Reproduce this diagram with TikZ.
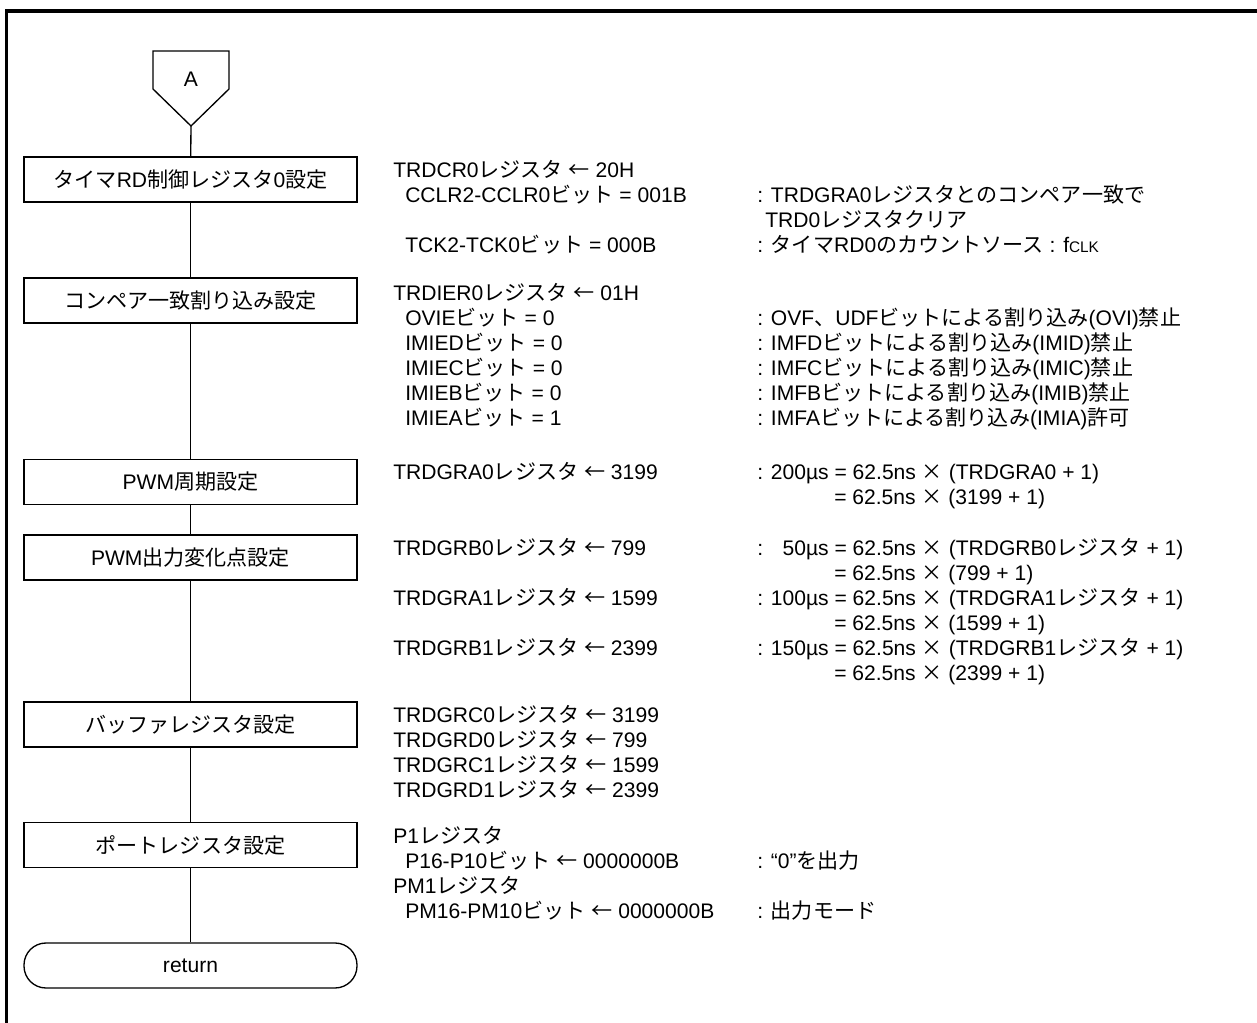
\documentclass[tikz,border=0pt]{standalone}
\usepackage{fontspec}
\setmainfont{Liberation Sans}
\newfontfamily\jpfont{Noto Sans CJK JP}
\newcommand{\ja}[1]{{\jpfont #1}}
\newcommand{\la}{\ja{←}}
\newcommand{\tm}{\ja{×}}
\usetikzlibrary{positioning}

\begin{document}
\begin{tikzpicture}[x=0.75pt,y=-0.75pt,
  font=\fontsize{15.8}{19}\selectfont,
  proc/.style={draw, line width=1pt, minimum width=249.75pt, minimum height=33.75pt, inner sep=0pt},
  term/.style={proc, rounded corners=16.5pt},
  txt/.style={anchor=west, inner sep=0pt, text height=11.3pt, text depth=0pt},
  flow/.style={line width=1pt}]

\useasboundingbox (0,0) rectangle (1257,1023);

% Frame
\draw[line width=2.5pt, line join=miter] (6.5,1023) -- (6.5,11) -- (1257,11);

% Connector A
\draw[flow] (153,51) -- (229,51) -- (229,89) -- (191,126) -- (153,89) -- cycle;
\node (conA) at (191,79) {A};
\coordinate (atip) at (191,126);

% Boxes
\node[proc] (bx1) at (190.5,179.5) {\ja{タイマ}RD\ja{制御レジスタ}0\ja{設定}};
\node[proc] (bx2) at (190.5,300.5) {\ja{コンペア一致割り込み設定}};
\node[proc] (bx3) at (190.5,482) {PWM\ja{周期設定}};
\node[proc] (bx4) at (190.5,557.5) {PWM\ja{出力変化点設定}};
\node[proc] (bx5) at (190.5,724.5) {\ja{バッファレジスタ設定}};
\node[proc] (bx6) at (190.5,845) {\ja{ポートレジスタ設定}};
\node[term] (ret) at (190.5,965.5) {return};

\draw[flow] (atip) -- (bx1);
\draw[flow] (bx1) -- (bx2);
\draw[flow] (bx2) -- (bx3);
\draw[flow] (bx3) -- (bx4);
\draw[flow] (bx4) -- (bx5);
\draw[flow] (bx5) -- (bx6);
\draw[flow] (bx6) -- (ret);

% Timer RD control register 0
\node[txt] (l1a) at (393,170) {TRDCR0\ja{レジスタ} \la{} 20H};
\node[txt] (l1b) at (405,195) {CCLR2-CCLR0\ja{ビット} = 001B};
\node[txt] (r1b) at (757,195) {: TRDGRA0\ja{レジスタとのコンペア一致で}};
\node[txt] (r1c) at (765,220) {TRD0\ja{レジスタクリア}};
\node[txt] (l1d) at (405,245) {TCK2-TCK0\ja{ビット} = 000B};
\node[txt] (r1d) at (757,245) {: \ja{タイマ}RD0\ja{のカウントソース} : f{\fontsize{11.5}{11.5}\selectfont CLK}};

% Interrupt enable
\node[txt] (l2a) at (393,293) {TRDIER0\ja{レジスタ} \la{} 01H};
\node[txt] (l2b) at (405,318) {OVIE\ja{ビット} = 0};
\node[txt] (r2b) at (757,318) {: OVF\ja{、}UDF\ja{ビットによる割り込み}(OVI)\ja{禁止}};
\node[txt] (l2c) at (405,343) {IMIED\ja{ビット} = 0};
\node[txt] (r2c) at (757,343) {: IMFD\ja{ビットによる割り込み}(IMID)\ja{禁止}};
\node[txt] (l2d) at (405,368) {IMIEC\ja{ビット} = 0};
\node[txt] (r2d) at (757,368) {: IMFC\ja{ビットによる割り込み}(IMIC)\ja{禁止}};
\node[txt] (l2e) at (405,393) {IMIEB\ja{ビット} = 0};
\node[txt] (r2e) at (757,393) {: IMFB\ja{ビットによる割り込み}(IMIB)\ja{禁止}};
\node[txt] (l2f) at (405,418) {IMIEA\ja{ビット} = 1};
\node[txt] (r2f) at (757,418) {: IMFA\ja{ビットによる割り込み}(IMIA)\ja{許可}};

% PWM period
\node[txt] (l3a) at (393,472) {TRDGRA0\ja{レジスタ} \la{} 3199};
\node[txt] (r3a) at (757,472) {: 200µs = 62.5ns \tm{} (TRDGRA0 + 1)};
\node[txt] (r3b) at (834,497) {= 62.5ns \tm{} (3199 + 1)};

% PWM output change points
\node[txt] (l4a) at (393,548) {TRDGRB0\ja{レジスタ} \la{} 799};
\node[txt] (r4a) at (757,548) {: \hphantom{2}50µs = 62.5ns \tm{} (TRDGRB0\ja{レジスタ} + 1)};
\node[txt] (r4b) at (834,573) {= 62.5ns \tm{} (799 + 1)};
\node[txt] (l4c) at (393,598) {TRDGRA1\ja{レジスタ} \la{} 1599};
\node[txt] (r4c) at (757,598) {: 100µs = 62.5ns \tm{} (TRDGRA1\ja{レジスタ} + 1)};
\node[txt] (r4d) at (834,623) {= 62.5ns \tm{} (1599 + 1)};
\node[txt] (l4e) at (393,648) {TRDGRB1\ja{レジスタ} \la{} 2399};
\node[txt] (r4e) at (757,648) {: 150µs = 62.5ns \tm{} (TRDGRB1\ja{レジスタ} + 1)};
\node[txt] (r4f) at (834,673) {= 62.5ns \tm{} (2399 + 1)};

% Buffer registers
\node[txt] (l5a) at (393,715) {TRDGRC0\ja{レジスタ} \la{} 3199};
\node[txt] (l5b) at (393,740) {TRDGRD0\ja{レジスタ} \la{} 799};
\node[txt] (l5c) at (393,765) {TRDGRC1\ja{レジスタ} \la{} 1599};
\node[txt] (l5d) at (393,790) {TRDGRD1\ja{レジスタ} \la{} 2399};

% Port registers
\node[txt] (l6a) at (393,836) {P1\ja{レジスタ}};
\node[txt] (l6b) at (405,861) {P16-P10\ja{ビット} \la{} 0000000B};
\node[txt] (r6b) at (757,861) {: “0”\ja{を出力}};
\node[txt] (l6c) at (393,886) {PM1\ja{レジスタ}};
\node[txt] (l6d) at (405,911) {PM16-PM10\ja{ビット} \la{} 0000000B};
\node[txt] (r6d) at (757,911) {: \ja{出力モード}};

\end{tikzpicture}
\end{document}
